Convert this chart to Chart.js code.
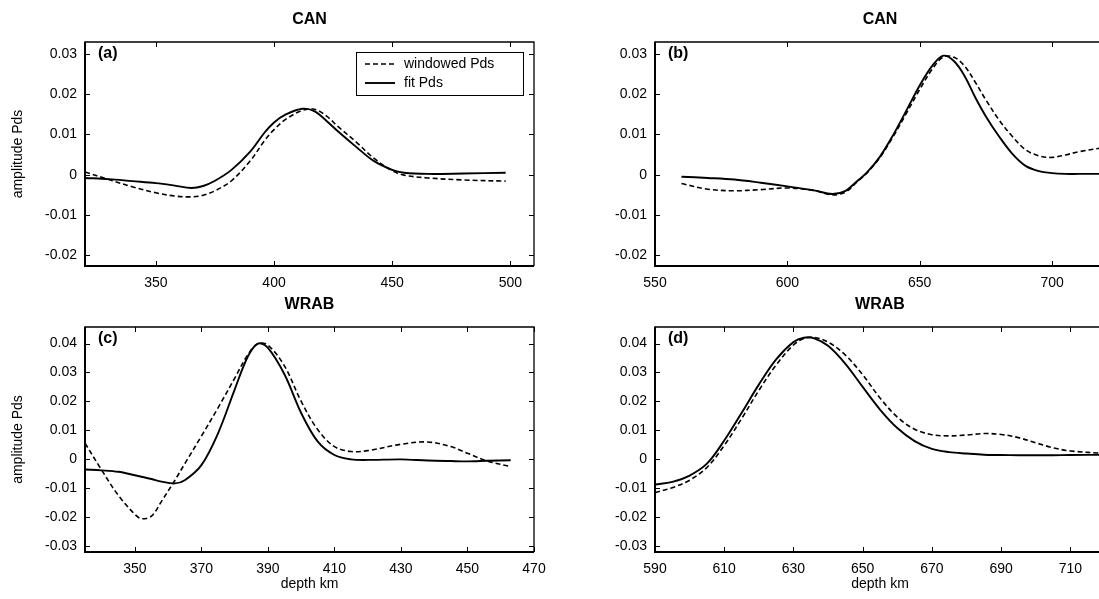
<!DOCTYPE html>
<html lang="en">
<head>
    <meta charset="UTF-8">
    <title>Pds amplitude - CAN / WRAB</title>
    <script src="https://cdn.jsdelivr.net/npm/chart.js"></script>
    <style>
        html, body { margin: 0; padding: 0; background: #fff; overflow: hidden; }
        #page { position: relative; width: 1099px; height: 599px; overflow: hidden; }
        canvas { position: absolute; }
    </style>
</head>
<body>
<div id="page">
    <canvas id="chartA" width="549" height="299" style="left:0;top:0"></canvas>
    <canvas id="chartB" width="560" height="299" style="left:549px;top:0"></canvas>
    <canvas id="chartC" width="549" height="314" style="left:0;top:285px"></canvas>
    <canvas id="chartD" width="560" height="314" style="left:549px;top:285px"></canvas>
</div>

<script>
// ---- data ----
const seriesLabels = ['windowed Pds', 'fit Pds'];

// (a) CAN, 410 window
const aDepth    = [320, 330, 340, 350, 358, 365, 370, 375, 382, 390, 396, 400, 405, 412, 417, 422, 427, 435, 442, 450, 455, 465, 480, 498];
const aWindowed = [0.0007, -0.0012, -0.0030, -0.0045, -0.0053, -0.0055, -0.0051, -0.0040, -0.0015, 0.0035, 0.0085, 0.0112, 0.0138, 0.0160, 0.0163, 0.0147, 0.0120, 0.0080, 0.0042, 0.0010, -0.0001, -0.0008, -0.0013, -0.0016];
const aFit      = [-0.0008, -0.0011, -0.0016, -0.0021, -0.0027, -0.0033, -0.0028, -0.0015, 0.0012, 0.0058, 0.0105, 0.0130, 0.0150, 0.0164, 0.0158, 0.0135, 0.0108, 0.0068, 0.0035, 0.0012, 0.0005, 0.0002, 0.0003, 0.0005];

// (b) CAN, 660 window
const bDepth    = [560, 570, 580, 590, 600, 610, 617, 622, 626, 630, 635, 640, 645, 650, 655, 659, 663, 667, 671, 675, 680, 685, 690, 695, 700, 705, 710, 720];
const bWindowed = [-0.0022, -0.0036, -0.0040, -0.0037, -0.0033, -0.0039, -0.0050, -0.0043, -0.0020, 0.0004, 0.0043, 0.0095, 0.0153, 0.0212, 0.0265, 0.0293, 0.0292, 0.0270, 0.0230, 0.0186, 0.0136, 0.0095, 0.0062, 0.0047, 0.0043, 0.0049, 0.0057, 0.0068];
const bFit      = [-0.0005, -0.0008, -0.0012, -0.0020, -0.0029, -0.0039, -0.0048, -0.0040, -0.0018, 0.0005, 0.0045, 0.0099, 0.0160, 0.0222, 0.0273, 0.0296, 0.0282, 0.0245, 0.0192, 0.0145, 0.0095, 0.0052, 0.0022, 0.0009, 0.0004, 0.0002, 0.0002, 0.0002];

// (c) WRAB, 410 window
const cDepth    = [335, 340, 345, 350, 352, 355, 358, 362, 365, 370, 375, 380, 384, 387, 390, 395, 400, 405, 410, 415, 420, 430, 438, 445, 450, 456, 463];
const cWindowed = [0.0056, -0.0037, -0.0124, -0.0190, -0.0205, -0.0196, -0.0145, -0.0073, -0.0015, 0.0080, 0.0178, 0.0280, 0.0362, 0.0399, 0.0394, 0.0322, 0.0200, 0.0102, 0.0044, 0.0027, 0.0030, 0.0052, 0.0060, 0.0044, 0.0021, -0.0006, -0.0025];
const cFit      = [-0.0035, -0.0038, -0.0043, -0.0055, -0.0060, -0.0068, -0.0077, -0.0083, -0.0072, -0.0020, 0.0090, 0.0241, 0.0356, 0.0400, 0.0385, 0.0293, 0.0160, 0.0061, 0.0015, 0.0000, -0.0002, 0.0000, -0.0004, -0.0006, -0.0007, -0.0005, -0.0003];

// (d) WRAB, 660 window
const dDepth    = [590, 595, 600, 605, 610, 615, 620, 625, 630, 633, 636, 640, 645, 650, 655, 660, 665, 670, 675, 680, 685, 690, 695, 700, 705, 710, 720];
const dWindowed = [-0.0115, -0.0098, -0.0072, -0.0028, 0.0048, 0.0140, 0.0238, 0.0326, 0.0395, 0.0417, 0.0421, 0.0405, 0.0360, 0.0292, 0.0212, 0.0146, 0.0104, 0.0085, 0.0081, 0.0084, 0.0089, 0.0086, 0.0075, 0.0057, 0.0040, 0.0029, 0.0020];
const dFit      = [-0.0087, -0.0078, -0.0056, -0.0015, 0.0065, 0.0160, 0.0258, 0.0345, 0.0405, 0.0420, 0.0418, 0.0392, 0.0330, 0.0250, 0.0172, 0.0108, 0.0063, 0.0036, 0.0025, 0.0020, 0.0016, 0.0015, 0.0014, 0.0014, 0.0014, 0.0015, 0.0016];

// tick labels
const xTicksA = [350, 400, 450, 500];
const xTicksB = [550, 600, 650, 700];
const xTicksC = [350, 370, 390, 410, 430, 450, 470];
const xTicksD = [590, 610, 630, 650, 670, 690, 710];
const yTicksTop    = [-0.02, -0.01, 0, 0.01, 0.02, 0.03];
const yTicksBottom = [-0.03, -0.02, -0.01, 0, 0.01, 0.02, 0.03, 0.04];

const FONT = '"Liberation Sans", Arial, Helvetica, sans-serif';
Chart.defaults.font.family = FONT;
Chart.defaults.font.size = 14;
Chart.defaults.color = '#000';

// frame with inward ticks (matlab style), panel title, letter and legend
const deco = {
    id: 'deco',
    afterDatasetsDraw(chart, args, opts) {
        const ctx = chart.ctx;
        const a = chart.chartArea;
        const xs = chart.scales.x, ys = chart.scales.y;
        ctx.save();
        ctx.strokeStyle = '#000';
        ctx.fillStyle = '#000';

        ctx.lineWidth = 1;
        ctx.beginPath();
        xs.ticks.forEach(t => {
            const px = Math.round(xs.getPixelForValue(t.value)) + 0.5;
            ctx.moveTo(px, a.bottom); ctx.lineTo(px, a.bottom - 5);
            ctx.moveTo(px, a.top); ctx.lineTo(px, a.top + 5);
        });
        ys.ticks.forEach(t => {
            const py = Math.round(ys.getPixelForValue(t.value)) + 0.5;
            ctx.moveTo(a.left, py); ctx.lineTo(a.left + 5, py);
            ctx.moveTo(a.right, py); ctx.lineTo(a.right - 5, py);
        });
        ctx.stroke();

        ctx.lineWidth = 1.3;
        ctx.beginPath();
        ctx.moveTo(a.left, a.top); ctx.lineTo(a.right, a.top); ctx.lineTo(a.right, a.bottom);
        ctx.stroke();
        ctx.lineWidth = 2;
        ctx.beginPath();
        ctx.moveTo(a.left, a.top - 0.6); ctx.lineTo(a.left, a.bottom); ctx.lineTo(a.right, a.bottom);
        ctx.stroke();

        // title over the axes
        ctx.font = 'bold 16px ' + FONT;
        ctx.textAlign = 'center';
        ctx.textBaseline = 'middle';
        ctx.fillText(opts.title, (a.left + a.right) / 2, a.top - 22);

        // panel letter
        ctx.textAlign = 'left';
        ctx.fillText(opts.letter, a.left + 13, a.top + 12);

        if (opts.legend) {
            const bx = a.left + 271, by = a.top + 10, bw = 167, bh = 43;
            ctx.fillStyle = '#fff';
            ctx.fillRect(bx, by, bw, bh);
            ctx.lineWidth = 1;
            ctx.strokeRect(bx + 0.5, by + 0.5, bw, bh);
            ctx.fillStyle = '#000';
            ctx.font = '14px ' + FONT;
            chart.data.datasets.forEach((ds, i) => {
                const ry = by + 12 + i * 19;
                ctx.lineWidth = ds.borderWidth;
                ctx.setLineDash(ds.borderDash || []);
                ctx.beginPath();
                ctx.moveTo(bx + 9, ry); ctx.lineTo(bx + 39, ry);
                ctx.stroke();
                ctx.setLineDash([]);
                ctx.fillText(ds.label, bx + 48, ry);
            });
        }
        ctx.restore();
    }
};

function makeChart(id, p) {
    const toPts = (xs, ys) => xs.map((v, i) => ({ x: v, y: ys[i] }));
    return new Chart(document.getElementById(id), {
        type: 'line',
        data: {
            datasets: [
                {
                    label: seriesLabels[0],
                    data: toPts(p.depth, p.windowed),
                    borderColor: '#000',
                    borderWidth: 1.6,
                    borderDash: [5, 3],
                    pointRadius: 0,
                    tension: 0.35,
                    fill: false
                },
                {
                    label: seriesLabels[1],
                    data: toPts(p.depth, p.fit),
                    borderColor: '#000',
                    borderWidth: 1.9,
                    pointRadius: 0,
                    tension: 0.35,
                    fill: false
                }
            ]
        },
        options: {
            responsive: false,
            animation: false,
            events: [],
            layout: { padding: { left: 0, top: 42, right: p.padRight, bottom: 0 } },
            plugins: {
                legend: { display: false },
                tooltip: { enabled: false },
                deco: { title: p.title, letter: p.letter, legend: !!p.legend }
            },
            scales: {
                x: {
                    type: 'linear',
                    min: p.xMin,
                    max: p.xMax,
                    grid: { display: false, drawTicks: false },
                    border: { display: false },
                    ticks: { padding: 9, maxRotation: 0, autoSkip: false, callback: v => String(v) },
                    afterBuildTicks: s => { s.ticks = p.xTicks.map(v => ({ value: v })); },
                    afterFit: s => { s.height = p.xHeight; s.paddingLeft = 0; s.paddingRight = 0; },
                    title: { display: !!p.xTitle, text: p.xTitle || '', padding: { top: 0, bottom: 6 } }
                },
                y: {
                    min: p.yMin,
                    max: p.yMax,
                    grid: { display: false, drawTicks: false },
                    border: { display: false },
                    ticks: { padding: 8, callback: v => (v === 0 ? '0' : v.toFixed(2)) },
                    afterBuildTicks: s => { s.ticks = p.yTicks.map(v => ({ value: v })); },
                    afterFit: s => { s.width = p.yWidth; s.paddingTop = 0; s.paddingBottom = 0; },
                    title: { display: !!p.yTitle, text: p.yTitle || '', padding: { top: 10, bottom: 0 } }
                }
            }
        },
        plugins: [deco]
    });
}

makeChart('chartA', {
    depth: aDepth, windowed: aWindowed, fit: aFit,
    title: 'CAN', letter: '(a)', legend: true,
    xMin: 320, xMax: 510, xTicks: xTicksA,
    yMin: -0.0227, yMax: 0.033, yTicks: yTicksTop,
    yTitle: 'amplitude Pds', yWidth: 85, padRight: 15, xHeight: 33
});
makeChart('chartB', {
    depth: bDepth, windowed: bWindowed, fit: bFit,
    title: 'CAN', letter: '(b)',
    xMin: 550, xMax: 720, xTicks: xTicksB,
    yMin: -0.0227, yMax: 0.033, yTicks: yTicksTop,
    yWidth: 106, padRight: 4, xHeight: 33
});
makeChart('chartC', {
    depth: cDepth, windowed: cWindowed, fit: cFit,
    title: 'WRAB', letter: '(c)',
    xMin: 335, xMax: 470, xTicks: xTicksC,
    yMin: -0.032, yMax: 0.0457, yTicks: yTicksBottom,
    yTitle: 'amplitude Pds', xTitle: 'depth km', yWidth: 85, padRight: 15, xHeight: 47
});
makeChart('chartD', {
    depth: dDepth, windowed: dWindowed, fit: dFit,
    title: 'WRAB', letter: '(d)',
    xMin: 590, xMax: 720, xTicks: xTicksD,
    yMin: -0.032, yMax: 0.0457, yTicks: yTicksBottom,
    xTitle: 'depth km', yWidth: 106, padRight: 4, xHeight: 47
});
</script>
</body>
</html>
